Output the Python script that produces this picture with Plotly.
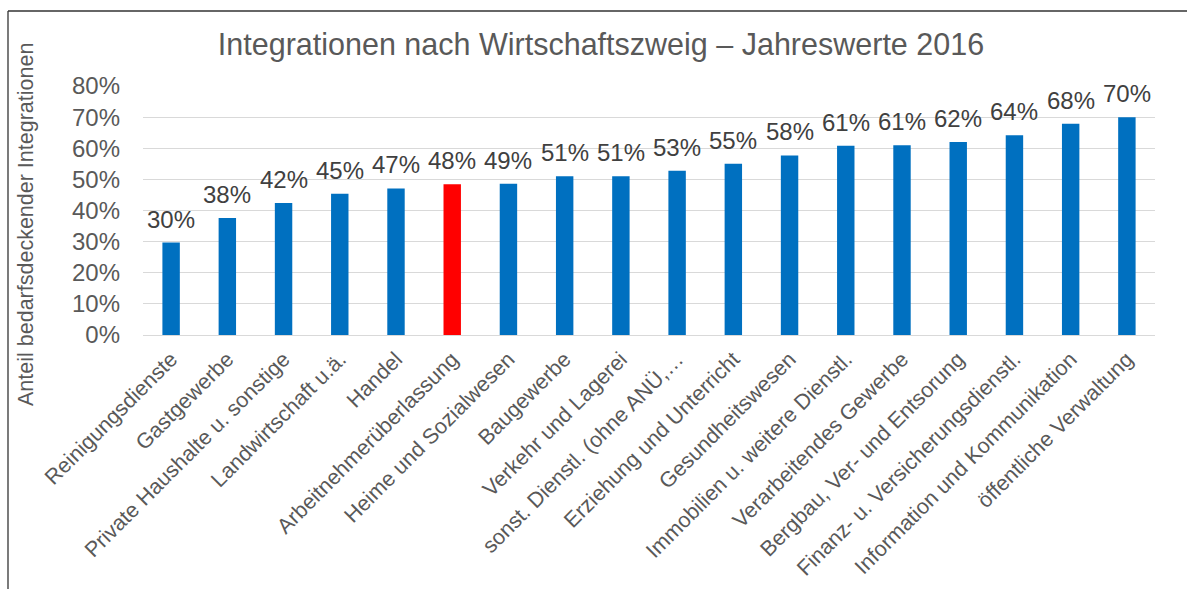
import plotly.graph_objects as go

categories = [
    "Reinigungsdienste", "Gastgewerbe", "Private Haushalte u. sonstige",
    "Landwirtschaft u.ä.", "Handel", "Arbeitnehmerüberlassung",
    "Heime und Sozialwesen", "Baugewerbe", "Verkehr und Lagerei",
    "sonst. Dienstl. (ohne ANÜ,…", "Erziehung und Unterricht",
    "Gesundheitswesen", "Immobilien u. weitere Dienstl.",
    "Verarbeitendes Gewerbe", "Bergbau, Ver- und Entsorung",
    "Finanz- u. Versicherungsdienstl.", "Information und Kommunikation",
    "öffentliche Verwaltung",
]
values_pct = [29.7, 37.6, 42.4, 45.4, 47.1, 48.4, 48.6, 51.0, 51.0, 52.8,
              55.0, 57.7, 60.8, 61.0, 62.0, 64.2, 67.9, 70.0]
highlight = "Arbeitnehmerüberlassung"
y_ticks = [0, 0.1, 0.2, 0.3, 0.4, 0.5, 0.6, 0.7, 0.8]

title_text = "Integrationen nach Wirtschaftszweig – Jahreswerte 2016"
y_title = "Anteil bedarfsdeckender Integrationen"

FONT = "Liberation Sans, Arial, sans-serif"
values = [v / 100 for v in values_pct]
colors = ["#FF0000" if c == highlight else "#0070C0" for c in categories]

fig = go.Figure(go.Bar(
    x=categories, y=values, marker=dict(color=colors, line=dict(width=0)),
    hoverinfo="skip",
))

W, H = 1187, 589
ml, mr, mt, mb = 143, 32, 86, 254
pw, ph = W - ml - mr, H - mt - mb

annotations = []
for c, v, vp in zip(categories, values, values_pct):
    annotations.append(dict(
        x=c, y=v, xref="x", yref="y", text=f"{vp:.0f}%", showarrow=False,
        yanchor="bottom", yshift=8,
        font=dict(family=FONT, size=24, color="#404040"),
    ))
annotations.append(dict(
    x=(26 - ml) / pw, y=(H - mb - 225) / ph, xref="paper", yref="paper",
    text=y_title, textangle=-90, showarrow=False,
    xanchor="center", yanchor="middle",
    font=dict(family=FONT, size=21.5, color="#595959"),
))

def px_x(p):
    return (p - ml) / pw

def px_y(p):
    return (H - mb - p) / ph

shapes = [
    dict(type="line", xref="paper", yref="paper",
         x0=px_x(8), x1=px_x(8), y0=px_y(11), y1=px_y(620),
         line=dict(color="#333333", width=1.3)),
    dict(type="line", xref="paper", yref="paper",
         x0=px_x(8), x1=px_x(1220), y0=px_y(11), y1=px_y(11),
         line=dict(color="#333333", width=1.3)),
]

fig.update_layout(
    width=W, height=H,
    margin=dict(l=ml, r=mr, t=mt, b=mb, pad=0, autoexpand=False),
    paper_bgcolor="white", plot_bgcolor="white",
    bargap=0.69,
    showlegend=False,
    title=dict(text=title_text, x=601 / W, xanchor="center", xref="container",
               y=1 - 44 / H, yanchor="middle", yref="container",
               font=dict(family=FONT, size=30.5, color="#595959")),
    font=dict(family=FONT, color="#595959"),
    annotations=annotations,
    shapes=shapes,
)
fig.update_xaxes(
    tickangle=-45, tickfont=dict(family=FONT, size=21.5, color="#595959"),
    showline=True, linecolor="#D9D9D9", linewidth=1.3,
    showgrid=False, ticks="", ticklabelstandoff=2, automargin=False,
)
fig.update_yaxes(
    range=[0, 0.8], tickvals=y_ticks, tickformat=".0%",
    tickfont=dict(family=FONT, size=24, color="#595959"),
    showgrid=True, gridcolor="#D9D9D9", gridwidth=1.3,
    zeroline=False, showline=False, ticks="", ticklabelstandoff=22,
    automargin=False,
)

fig.write_html(
    "out.html",
    config={"displayModeBar": False},
    post_script="document.body.style.margin='0';document.body.style.overflow='hidden';",
)
